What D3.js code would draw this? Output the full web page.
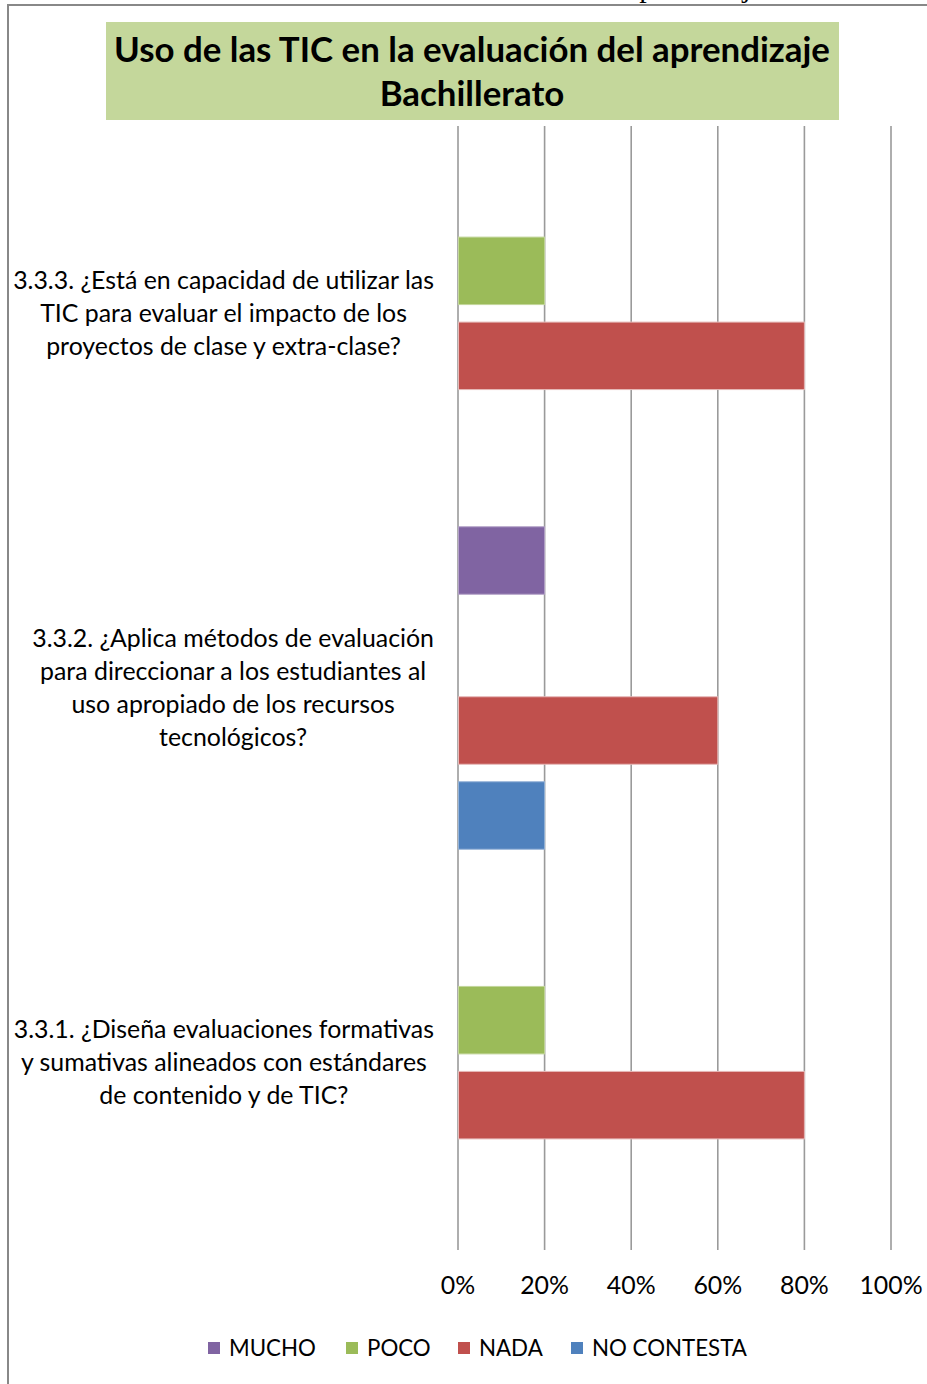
<!DOCTYPE html>
<html>
<head>
<meta charset="utf-8">
<script src="https://cdn.jsdelivr.net/npm/d3@7"></script>
<style>
  html, body { margin: 0; padding: 0; background: #fff; }
  svg { display: block; }
</style>
</head>
<body>
<svg id="chart" width="927" height="1384"></svg>
<script>
// ---------- DATA ----------
const titleLines = ["Uso de las TIC en la evaluación del aprendizaje", "Bachillerato"];
const categories = ["3.3.3", "3.3.2", "3.3.1"];
const categoryLabels = [
  ["3.3.3. ¿Está en capacidad de utilizar las", "TIC para evaluar el impacto de los", "proyectos de clase y extra-clase?"],
  ["3.3.2. ¿Aplica métodos de evaluación", "para direccionar a los estudiantes al", "uso apropiado de los recursos", "tecnológicos?"],
  ["3.3.1. ¿Diseña evaluaciones formativas", "y sumativas alineados con estándares", "de contenido y de TIC?"]
];
const seriesNames = ["MUCHO", "POCO", "NADA", "NO CONTESTA"];
const mucho      = [0.0, 0.2, 0.0];
const poco       = [0.2, 0.0, 0.2];
const nada       = [0.8, 0.6, 0.8];
const noContesta = [0.0, 0.2, 0.0];
const seriesValues = [mucho, poco, nada, noContesta];
const tickValues = [0, 0.2, 0.4, 0.6, 0.8, 1.0];
const tickLabels = ["0%", "20%", "40%", "60%", "80%", "100%"];
const colors = ["#8064A2", "#9BBB59", "#C0504D", "#4F81BD"];
const strokeColors = ["#b3a2c7", "#c3d69b", "#e6b9b8", "#95b3d7"];

// ---------- LAYOUT ----------
const svg = d3.select("#chart");
const FONT = "Lato, 'Open Sans', sans-serif";

function fitWidth(sel, target) {
  const node = sel.node();
  const fs = parseFloat(sel.attr("font-size"));
  const w = node.getComputedTextLength();
  if (w > 0) sel.attr("font-size", fs * target / w);
  return parseFloat(sel.attr("font-size"));
}

// document text above the frame (cut off by the page edge, as in the source)
svg.append("text")
  .attr("x", 626).attr("y", -3)
  .attr("font-family", "'Liberation Serif', 'Times New Roman', serif")
  .attr("font-size", 30)
  .attr("fill", "#000")
  .text("aprendizaje");

// frame
svg.append("line").attr("x1", 7).attr("x2", 927).attr("y1", 5).attr("y2", 5)
  .attr("stroke", "#888").attr("stroke-width", 2);
svg.append("line").attr("x1", 8).attr("x2", 8).attr("y1", 4).attr("y2", 1384)
  .attr("stroke", "#888").attr("stroke-width", 2);

// title box
svg.append("rect").attr("x", 106).attr("y", 22).attr("width", 733).attr("height", 98)
  .attr("fill", "#C4D79B");
const t1 = svg.append("text").attr("x", 472).attr("y", 62)
  .attr("text-anchor", "middle").attr("font-family", FONT).attr("font-weight", "bold")
  .attr("font-size", 32).attr("fill", "#000").text(titleLines[0]);
const titleFs = fitWidth(t1, 716);
svg.append("text").attr("x", 472).attr("y", 106)
  .attr("text-anchor", "middle").attr("font-family", FONT).attr("font-weight", "bold")
  .attr("font-size", titleFs).attr("fill", "#000").text(titleLines[1]);

// scales
const x = d3.scaleLinear().domain([0, 1]).range([458, 891]);
const y0 = d3.scaleBand().domain(categories).range([126, 1250]).paddingInner(0).paddingOuter(0);
const y1 = d3.scaleBand().domain(seriesNames).range([0, y0.bandwidth()])
  .paddingInner(0.206).paddingOuter(0.307);

// grid lines
svg.append("g").selectAll("line").data(tickValues).join("line")
  .attr("x1", d => x(d)).attr("x2", d => x(d))
  .attr("y1", 126).attr("y2", 1250)
  .attr("stroke", "#9a9a9a").attr("stroke-width", 1.6);

// bars
const groups = svg.append("g").selectAll("g").data(categories).join("g")
  .attr("transform", c => `translate(0,${y0(c)})`);
groups.each(function(c, ci) {
  const rows = seriesNames.map((s, si) => ({ s, si, v: seriesValues[si][ci] })).filter(d => d.v > 0);
  d3.select(this).selectAll("rect").data(rows).join("rect")
    .attr("x", x(0) + 0.5)
    .attr("y", d => y1(d.s))
    .attr("width", d => x(d.v) - x(0) - 0.5)
    .attr("height", y1.bandwidth())
    .attr("fill", d => colors[d.si])
    .attr("stroke", d => strokeColors[d.si])
    .attr("stroke-width", 1);
});

// category labels: block right-aligned at 434, lines centred within block
const catG = svg.append("g");
const probe = catG.append("text").attr("font-family", FONT).attr("font-size", 22).text(categoryLabels[0][0]);
const catFs = fitWidth(probe, 421);
probe.remove();
const blockRight = 434;
categories.forEach((c, ci) => {
  const lines = categoryLabels[ci];
  const lh = 33;
  const cy = y0(c) + y0.bandwidth() / 2;
  const startY = cy - (lines.length - 1) * lh / 2;
  const texts = lines.map((ln, li) => catG.append("text")
      .attr("y", startY + li * lh)
      .attr("dy", "0.35em")
      .attr("text-anchor", "middle")
      .attr("font-family", FONT).attr("font-size", catFs)
      .attr("fill", "#000").text(ln));
  const maxW = d3.max(texts, t => t.node().getComputedTextLength());
  texts.forEach(t => t.attr("x", blockRight - maxW / 2));
});

// x axis tick labels
const axisG = svg.append("g").attr("transform", "translate(0,1285)");
axisG.selectAll("text").data(tickValues).join("text")
  .attr("x", d => x(d)).attr("y", 0).attr("dy", "0.35em")
  .attr("text-anchor", "middle")
  .attr("font-family", FONT).attr("font-size", catFs)
  .attr("fill", "#000")
  .text((d, i) => tickLabels[i]);

// legend
const legendX = [208, 346, 458, 571];
const legend = svg.append("g").attr("transform", "translate(0,1348)");
const lp = legend.append("text").attr("font-family", FONT).attr("font-size", 22).text(seriesNames[3]);
const legFs = fitWidth(lp, 155);
lp.remove();
seriesNames.forEach((s, i) => {
  legend.append("rect").attr("x", legendX[i]).attr("y", -6).attr("width", 12).attr("height", 12)
    .attr("fill", colors[i]);
  legend.append("text").attr("x", legendX[i] + 21).attr("y", 0).attr("dy", "0.35em")
    .attr("font-family", FONT).attr("font-size", legFs).attr("fill", "#000").text(s);
});
</script>
</body>
</html>
